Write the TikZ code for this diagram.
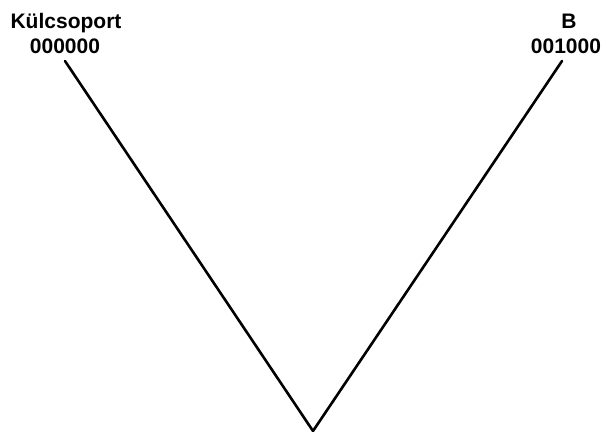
\documentclass[tikz,border=0pt]{standalone}
\usepackage{fontspec}
\setmainfont{Liberation Sans}
\usetikzlibrary{positioning}
\tikzset{
  every picture/.style={line width=2.6pt},
  leaf/.style={font=\fontsize{21}{25}\selectfont\bfseries, inner sep=0pt, anchor=base},
  branch/.style={draw=black, line cap=round},
}
\begin{document}
\begin{tikzpicture}[x=1pt, y=-1pt]
  \useasboundingbox (0,0) rectangle (607,431);
  % tips and root of the tree
  \coordinate (outtip) at (65,61);
  \coordinate (btip) at (562,61);
  \coordinate (root) at (313,431);
  % labels
  \node[leaf] (outname) at (66,28) {Külcsoport};
  \node[leaf] (outcode) at (65,53) {000000};
  \node[leaf] (bname) at (569,28) {B};
  \node[leaf] (bcode) at (566,53) {001000};
  \draw[branch] (outtip) -- (root) -- (btip);
\end{tikzpicture}
\end{document}
